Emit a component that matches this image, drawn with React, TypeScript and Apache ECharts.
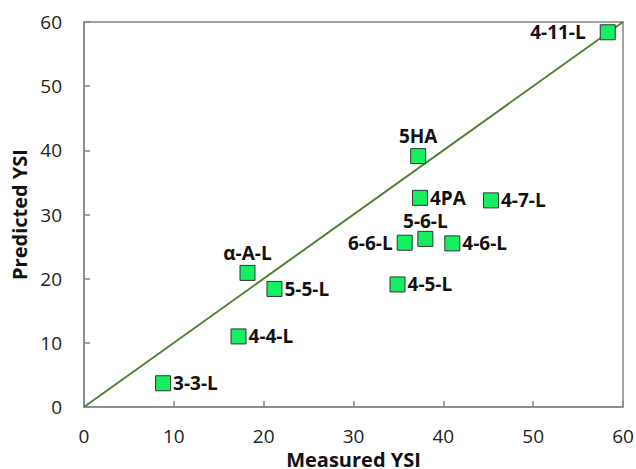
import React, { useEffect, useRef } from "react";
import * as echarts from "echarts";

const names = ["3-3-L", "4-4-L", "α-A-L", "5-5-L", "5HA", "4PA", "4-7-L", "4-11-L", "5-6-L", "6-6-L", "4-6-L", "4-5-L"];
const measured = [8.8, 17.2, 18.2, 21.2, 37.2, 37.4, 45.3, 58.3, 38.0, 35.7, 41.0, 34.9];
const predicted = [3.7, 11.0, 20.9, 18.4, 39.1, 32.6, 32.2, 58.4, 26.2, 25.6, 25.5, 19.1];
const labelSide = ["right", "right", "top", "right", "top", "right", "right", "left", "top", "left", "right", "right"];
const labelGap = [2, 2, 3, 2, 3, 2, 2, 14, 1, 4, 2, 2];
const ticks = [0, 10, 20, 30, 40, 50, 60];
const parity = [[0, 0], [60, 60]];

const FONT = "'Open Sans', sans-serif";

export default function App() {
  const ref = useRef<HTMLDivElement>(null);
  useEffect(() => {
    const chart = echarts.init(ref.current!, null, { renderer: "svg" });
    const axisCommon = {
      type: "value",
      min: ticks[0],
      max: ticks[ticks.length - 1],
      interval: 10,
      axisLine: { show: true, lineStyle: { color: "#878787", width: 1.5 } },
      axisTick: { show: true, inside: true, length: 6, lineStyle: { color: "#878787", width: 1.5 } },
      splitLine: { show: false },
      axisLabel: { color: "#222", fontSize: 19, fontFamily: FONT },
      nameLocation: "middle",
      nameTextStyle: { color: "#111", fontSize: 20, lineHeight: 20, fontWeight: "bold", fontFamily: FONT },
    };
    chart.setOption({
      animation: false,
      backgroundColor: "#fff",
      grid: {
        left: 84, right: 13, top: 22, bottom: 62,
        show: true, borderColor: "#878787", borderWidth: 1.5,
        containLabel: false, outerBoundsMode: "none",
      },
      xAxis: { ...axisCommon, name: "Measured YSI", nameGap: 33, axisLabel: { ...axisCommon.axisLabel, margin: 19 } },
      yAxis: { ...axisCommon, name: "Predicted YSI", nameGap: 53, axisLabel: { ...axisCommon.axisLabel, margin: 22 } },
      series: [
        {
          type: "line",
          data: parity,
          symbol: "none",
          lineStyle: { color: "#548235", width: 2 },
          z: 1,
          silent: true,
        },
        {
          type: "scatter",
          symbol: "rect",
          symbolSize: 15,
          z: 3,
          itemStyle: { color: "#14F060", opacity: 1, borderColor: "#333", borderWidth: 1 },
          data: names.map((n, i) => ({
            name: n,
            value: [measured[i], predicted[i]],
            label: { position: labelSide[i], distance: labelGap[i] },
          })),
          label: {
            show: true,
            formatter: "{b}",
            color: "#111",
            fontSize: 19,
            lineHeight: 18,
            fontWeight: "bold",
            fontFamily: FONT,
          },
        },
      ],
    });
    return () => chart.dispose();
  }, []);
  return <div ref={ref} style={{ width: 636, height: 469, position: "absolute", left: 0, top: 0 }} />;
}
